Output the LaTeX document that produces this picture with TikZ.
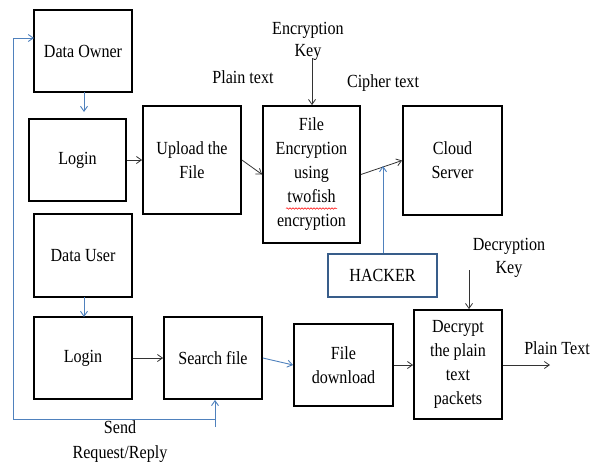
\documentclass[tikz,border=0pt]{standalone}
\usepackage{fontspec}
\setmainfont[FakeStretch=0.87]{Liberation Serif}
\usetikzlibrary{arrows.meta,decorations.pathmorphing}
\definecolor{lblue}{RGB}{79,129,189}
\definecolor{hblue}{RGB}{56,93,138}
\begin{document}
\begin{tikzpicture}[x=1pt,y=-1pt,
  every node/.style={font=\fontsize{18.5}{24}\selectfont, align=center, inner sep=0pt},
  box/.style={draw=black, line width=1.8pt, minimum width=#1},
  box/.default=98pt,
  barr/.style={draw=black!80, line width=0.8pt, -{Straight Barb[length=5pt,width=7pt]}},
  uarr/.style={draw=lblue, line width=0.9pt, -{Straight Barb[length=5pt,width=7pt]}},
  uline/.style={draw=lblue, line width=0.9pt}]
\useasboundingbox (0,0) rectangle (591,467);

% boxes
\node[box, minimum height=82pt] (own) at (83,51) {Data Owner};
\node[box=97pt, minimum height=82pt] (login1) at (77.5,160) {Login};
\node[box, minimum height=108pt] (upload) at (192,160) {Upload the\\File};
\node[box=97pt, minimum height=137pt] (enc) at (311.5,174.5) {File\\Encryption\\using\\twofish\\encryption};
\node[box=99pt, minimum height=109pt] (cloud) at (452.5,160.5) {Cloud\\Server};
\node[draw=hblue, line width=1.6pt, minimum width=109pt, minimum height=43pt] (hacker) at (382.5,275.5) {HACKER};
\node[box, minimum height=83pt] (user) at (83,255.5) {Data User};
\node[box, minimum height=82pt] (login2) at (83,358) {Login};
\node[box, minimum height=82pt] (search) at (213,358) {Search file};
\node[box=99pt, minimum height=82pt] (down) at (343.5,365) {File\\download};
\node[box=88pt, minimum height=109pt] (dec) at (458,364.5) {Decrypt\\the plain\\text\\packets};

% spell-check underline
\draw[red, line width=0.5pt, decorate, decoration={snake, amplitude=0.8pt, segment length=3pt}] (286,208.5) -- (337,208.5);

% labels
\node[font=\fontsize{18.5}{22}\selectfont] (lplain) at (243,77) {Plain text};
\node[font=\fontsize{18.5}{22}\selectfont] (lkey) at (308,41) {Encryption\\Key};
\node (lcipher) at (383,83) {Cipher text};
\node[font=\fontsize{18.5}{23}\selectfont] (ldkey) at (509,258) {Decryption\\Key};
\node (lplainout) at (557,348) {Plain Text};
\node[font=\fontsize{18.5}{25}\selectfont] (lsend) at (120,442) {Send\\Request/Reply};

% coordinates
\coordinate (keyin) at (312,58);
\coordinate (hit) at (383,166);
\coordinate (dkeyin) at (469,270);
\coordinate (out) at (550,365);
\coordinate (loopb) at (215,427);
\coordinate (loopj) at (215,419);
\coordinate (lp) at (13,419);
\coordinate (ownin) at (34,38);

% black connectors
\draw[barr] (login1.east) -- (upload.west |- login1.east);
\draw[barr] (upload.east) -- (enc.west);
\draw[barr] (enc.east) -- (cloud.west);
\draw[barr] (keyin) -- (keyin |- enc.north);
\draw[barr] (login2.east) -- (search.west);
\draw[barr] (down.east) -- (dec.west |- down.east);
\draw[barr] (dkeyin) -- (dkeyin |- dec.north);
\draw[barr] (dec.east |- out) -- (out);

% blue connectors
\draw[uarr, shorten >=7pt] (84,92) -- (84,119);
\draw[uarr] (84,297) -- (84,317);
\draw[uarr] (hacker.north -| hit) -- (hit);
\draw[uarr] (search.east) -- (down.west);
\draw[uarr] (loopb) -- (loopb |- search.south);
\draw[uarr] (loopj) -- (lp) -- (lp |- ownin) -- (ownin);
\end{tikzpicture}
\end{document}
